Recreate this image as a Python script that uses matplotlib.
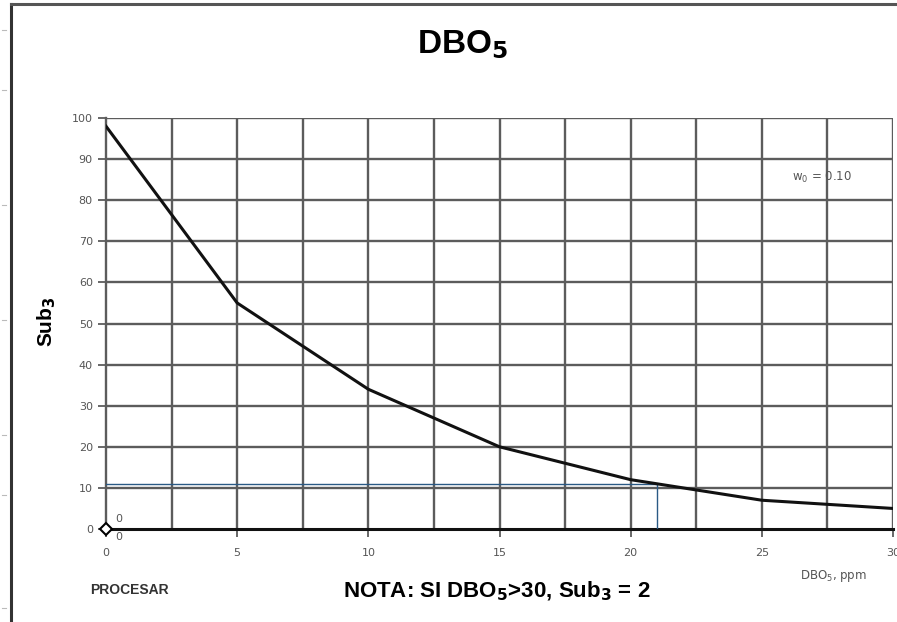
import matplotlib
matplotlib.use("Agg")
import matplotlib.pyplot as plt
from matplotlib.lines import Line2D

dbo5 = [0, 5, 10, 15, 20, 25, 30]
sub3 = [98, 55, 34, 20, 12, 7, 5]
x_read = 21
y_read = 11
x_ticks = [0, 5, 10, 15, 20, 25, 30]
y_ticks = [0, 10, 20, 30, 40, 50, 60, 70, 80, 90, 100]

W, H = 897, 622
fig = plt.figure(figsize=(W / 100, H / 100), dpi=100)
fig.patch.set_facecolor("white")

ax = fig.add_axes([106 / W, 1 - 529 / H, (893 - 106) / W, (529 - 118) / H])
ax.set_xlim(0, 30)
ax.set_ylim(0, 100)

grid_c = "#5c5c5c"
for gx in [i * 2.5 for i in range(1, 13)]:
    ax.axvline(gx, color=grid_c, lw=1.7, zorder=1)
for gy in y_ticks[1:]:
    ax.axhline(gy, color=grid_c, lw=1.7, zorder=1)

ax.plot(dbo5, sub3, color="#111111", lw=2.2, zorder=4, solid_joinstyle="round")
ax.plot([0, x_read], [y_read, y_read], color="#2a5a85", lw=1.0, zorder=3)
ax.plot([x_read, x_read], [0, y_read], color="#2a5a85", lw=1.0, zorder=3)
ax.plot([0], [0], marker="D", ms=6, mfc="white", mec="black", mew=1.5,
        zorder=6, clip_on=False)
ax.text(0.35, 1.2, "0", fontsize=8, color="#555555", ha="left", va="bottom")
ax.text(0.35, -0.8, "0", fontsize=8, color="#555555", ha="left", va="top")

for s in ["top", "right"]:
    ax.spines[s].set_visible(False)
ax.spines["left"].set_color(grid_c)
ax.spines["left"].set_linewidth(1.7)
ax.spines["bottom"].set_color("#111111")
ax.spines["bottom"].set_linewidth(2.2)

ax.set_xticks(x_ticks)
ax.set_yticks(y_ticks)
ax.tick_params(axis="both", colors=grid_c, labelcolor="#555555",
               labelsize=8, length=6, width=1.3)
ax.tick_params(axis="x", pad=8)

fig.text(463 / W, 1 - 45 / H, r"DBO$_\mathbf{5}$", fontsize=24,
         fontweight="bold", ha="center", va="center", family="Liberation Sans")
fig.text(47 / W, 1 - 322 / H, r"Sub$_\mathbf{3}$", fontsize=15,
         fontweight="bold", ha="center", va="center", rotation=90,
         family="Liberation Sans")
fig.text(90 / W, 1 - 590 / H, "PROCESAR", fontsize=10, fontweight="bold",
         ha="left", va="center", color="#333333", family="Liberation Sans")
fig.text(497 / W, 1 - 591 / H, r"NOTA: SI DBO$_\mathbf{5}$>30, Sub$_\mathbf{3}$ = 2",
         fontsize=16, fontweight="bold", ha="center", va="center",
         family="Liberation Sans")
fig.text(833 / W, 1 - 576 / H, r"DBO$_5$, ppm", fontsize=8.5, color="#555555",
         ha="center", va="center")
fig.text(822 / W, 1 - 177 / H, r"w$_0$ = 0.10", fontsize=8.5, color="#555555",
         ha="center", va="center")

# outer frame
fig.add_artist(Line2D([11 / W, 11 / W], [0, 1 - 4 / H], transform=fig.transFigure,
                      color="#333333", lw=2.2))
fig.add_artist(Line2D([11 / W, 1], [1 - 4 / H, 1 - 4 / H], transform=fig.transFigure,
                      color="#555555", lw=2.2))
for ty in [30, 90, 205, 320, 435, 495, 608]:
    fig.add_artist(Line2D([2 / W, 6 / W], [1 - ty / H, 1 - ty / H],
                          transform=fig.transFigure, color="#bbbbbb", lw=0.8))

fig.savefig("out.png", dpi=100)
